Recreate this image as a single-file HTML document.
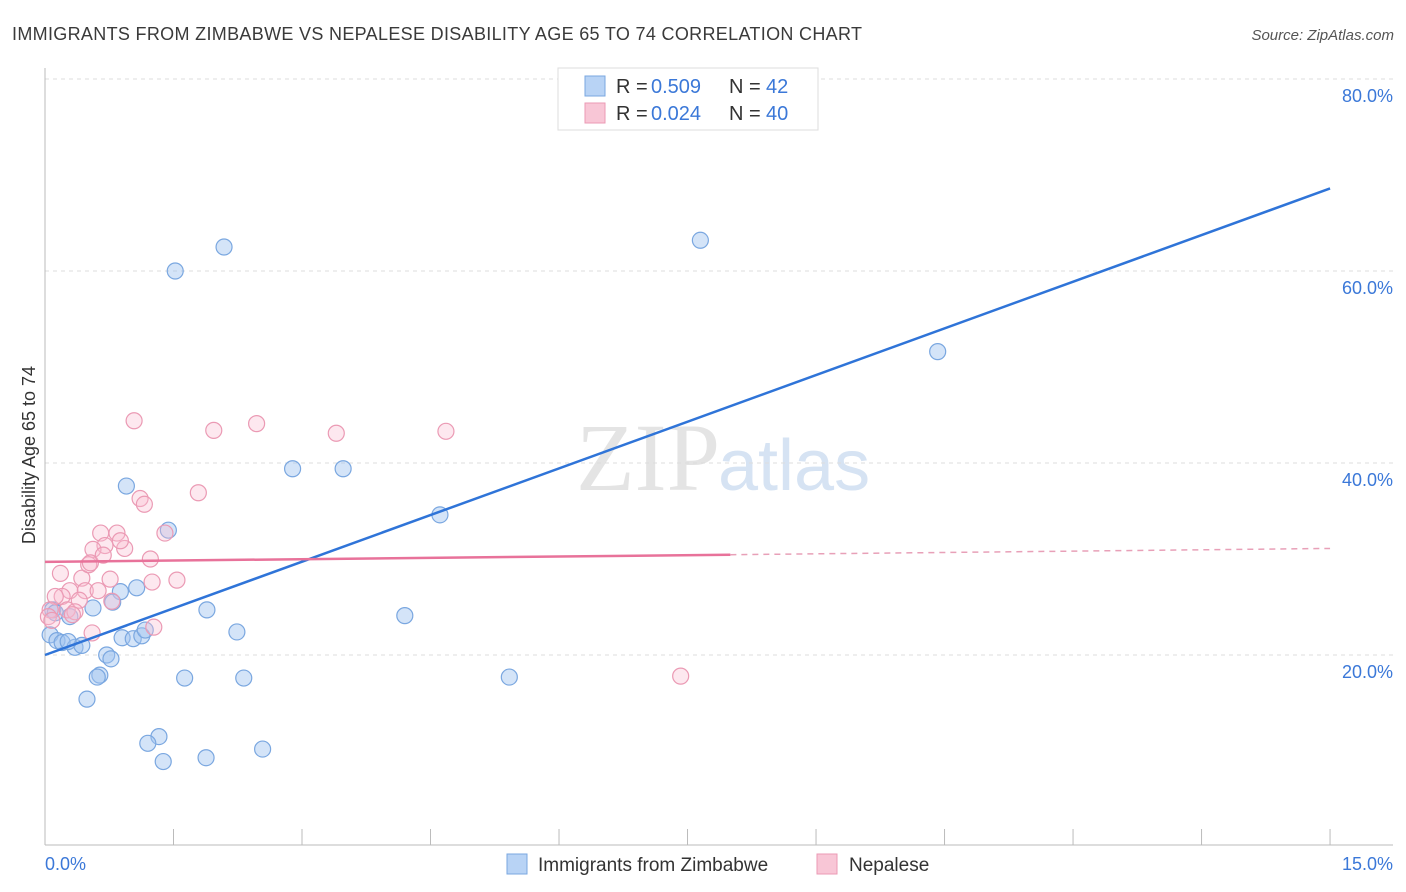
<!DOCTYPE html>
<html><head><meta charset="utf-8"><style>
body{margin:0;background:#fff;font-family:"Liberation Sans",sans-serif;}
svg{display:block}
</style></head><body>
<svg id="c" width="1406" height="892" viewBox="0 0 1406 892">
<text x="12" y="40" font-size="18" fill="#3a3a3a" textLength="850">IMMIGRANTS FROM ZIMBABWE VS NEPALESE DISABILITY AGE 65 TO 74 CORRELATION CHART</text>
<text x="1394" y="40" font-size="15" fill="#555" font-style="italic" text-anchor="end">Source: ZipAtlas.com</text>
<text x="720" y="490" font-size="96" fill="#e4e4e4" text-anchor="end" font-family="Liberation Serif,serif">ZIP</text>
<text x="718" y="490" font-size="72" fill="#d6e3f3">atlas</text>
<g id="grid"></g>
<g id="axes"></g>
<g id="pts"></g>
<g id="lines"></g>
<text x="35" y="455" font-size="18" fill="#333" text-anchor="middle" transform="rotate(-90 35 455)">Disability Age 65 to 74</text>
<text x="45" y="870" font-size="18" fill="#3b78d8">0.0%</text>
<text x="1393" y="870" font-size="18" fill="#3b78d8" text-anchor="end">15.0%</text>
<g>
<rect x="558" y="68" width="260" height="62" fill="#fff" stroke="#ddd"/>
<rect x="585" y="76" width="20" height="20" fill="#b8d3f5" stroke="#7aa7e0"/>
<rect x="585" y="103" width="20" height="20" fill="#f8c6d6" stroke="#eb9ab4"/>
<text x="616" y="93" font-size="20" fill="#333">R =</text>
<text x="651" y="93" font-size="20" fill="#3b78d8">0.509</text>
<text x="729" y="93" font-size="20" fill="#333">N =</text>
<text x="766" y="93" font-size="20" fill="#3b78d8">42</text>
<text x="616" y="120" font-size="20" fill="#333">R =</text>
<text x="651" y="120" font-size="20" fill="#3b78d8">0.024</text>
<text x="729" y="120" font-size="20" fill="#333">N =</text>
<text x="766" y="120" font-size="20" fill="#3b78d8">40</text>
</g>
<g>
<rect x="507" y="854" width="20" height="20" fill="#b8d3f5" stroke="#7aa7e0"/>
<text x="538" y="871" font-size="19" fill="#333">Immigrants from Zimbabwe</text>
<rect x="817" y="854" width="20" height="20" fill="#f8c6d6" stroke="#eb9ab4"/>
<text x="849" y="871" font-size="19" fill="#333">Nepalese</text>
</g>
</svg>
<script>
const yTicks=[20,40,60,80];
const yTickLabels=["20.0%","40.0%","60.0%","80.0%"];
const xTicks=[0,1.5,3,4.5,6,7.5,9,10.5,12,13.5,15];
const blueX=[1.52,2.09,7.65,10.42,0.95,2.89,3.48,1.44,4.61,0.09,0.56,0.88,1.07,0.79,1.89,4.20,2.24,0.29,0.06,0.14,0.20,0.35,0.43,0.27,0.90,1.03,1.13,1.17,0.72,0.77,0.64,0.61,1.63,2.32,5.42,0.49,1.33,1.20,1.38,1.88,2.54,0.12];
const blueY=[60.0,62.5,63.2,51.6,37.6,39.4,39.4,33.0,34.6,24.7,24.9,26.6,27.0,25.5,24.7,24.1,22.4,24.0,22.1,21.5,21.3,20.8,21.0,21.4,21.8,21.7,22.0,22.6,20.0,19.6,17.9,17.7,17.6,17.6,17.7,15.4,11.5,10.8,8.9,9.3,10.2,24.4];
const pinkX=[1.04,1.97,2.47,3.40,4.68,1.79,1.11,1.16,0.65,0.84,0.70,0.93,0.56,1.23,1.40,0.18,0.43,0.76,1.25,1.54,0.51,0.47,0.29,0.20,0.62,0.78,0.12,0.40,0.26,0.35,0.06,0.04,0.08,0.55,1.27,7.42,0.53,0.68,0.88,0.32];
const pinkY=[44.4,43.4,44.1,43.1,43.3,36.9,36.3,35.7,32.7,32.7,31.4,31.1,31.0,30.0,32.7,28.5,28.0,27.9,27.6,27.8,29.4,26.7,26.7,26.1,26.7,25.6,26.1,25.7,24.7,24.5,24.7,24.0,23.6,22.3,22.9,17.8,29.6,30.4,31.9,24.2];
const blueLine=[20.0,68.6];
const pinkLine=[29.7,31.1];
const pinkSolidEnd=8;
const X=v=>45+v*85.67, Y=v=>847-v*9.6;
const NS="http://www.w3.org/2000/svg";
function mk(t,a,p){const e=document.createElementNS(NS,t);for(const k in a)e.setAttribute(k,a[k]);p.appendChild(e);return e;}
const grid=document.getElementById('grid'),axes=document.getElementById('axes'),pts=document.getElementById('pts'),lines=document.getElementById('lines');
yTicks.forEach((t,i)=>{
 const g=mk('line',{x1:45,x2:1393,y1:Y(t),y2:Y(t),stroke:'#ddd','stroke-dasharray':'4 4'},grid);
 
 
 const l=mk('text',{x:1393,y:Y(t)+23,'font-size':18,fill:'#3b78d8','text-anchor':'end'},grid);
 l.textContent=yTickLabels[i];
 
 
});
const ax=mk('line',{x1:45,x2:1393,y1:845,y2:845,stroke:'#bbb'},axes);


const ay=mk('line',{x1:45,x2:45,y1:68,y2:845,stroke:'#bbb'},axes);


xTicks.forEach(t=>{
 const k=mk('line',{x1:X(t),x2:X(t),y1:829,y2:845,stroke:'#bbb'},axes);
 
 
});
blueX.forEach((v,i)=>{
 const c=mk('circle',{cx:X(v),cy:Y(blueY[i]),r:8,fill:'rgba(160,195,240,0.45)',stroke:'#7aa7e0','stroke-width':1.2},pts);
 
 
});
pinkX.forEach((v,i)=>{
 const c=mk('circle',{cx:X(v),cy:Y(pinkY[i]),r:8,fill:'rgba(248,190,210,0.35)',stroke:'#eb9ab4','stroke-width':1.2},pts);
 
 
});
const bl=mk('line',{x1:X(0),y1:Y(blueLine[0]),x2:X(15),y2:Y(blueLine[1]),stroke:'#2f74d8','stroke-width':2.5},lines);


const pm=pinkLine[0]+(pinkLine[1]-pinkLine[0])*pinkSolidEnd/15;
const pl=mk('line',{x1:X(0),y1:Y(pinkLine[0]),x2:X(pinkSolidEnd),y2:Y(pm),stroke:'#e8729a','stroke-width':2.5},lines);


const pd=mk('line',{x1:X(pinkSolidEnd),y1:Y(pm),x2:X(15),y2:Y(pinkLine[1]),stroke:'#e8a0b8','stroke-width':1.5,'stroke-dasharray':'6 5'},lines);


</script>
</body></html>
